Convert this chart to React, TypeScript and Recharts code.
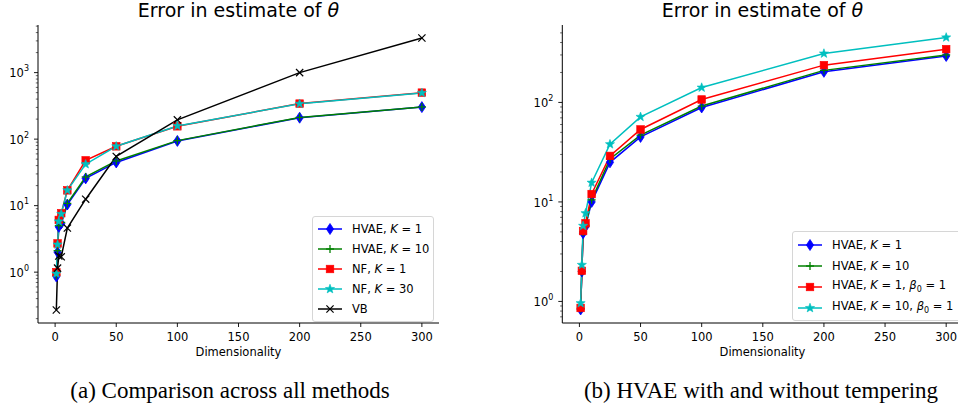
import React from 'react';
import { LineChart, Line, XAxis, YAxis, Legend } from 'recharts';

// ---------- data ----------
const dims = [1, 2, 3, 5, 10, 25, 50, 100, 200, 300];

// (a) Comparison across all methods
const hvaeK1A = [0.86, 2.0, 4.8, 5.4, 10.4, 25.7, 44.6, 94, 210, 303];
const hvaeK10A = [0.9, 2.1, 5.0, 5.6, 10.8, 27, 47, 95, 212, 305];
const nfK1A = [1.0, 2.7, 6.1, 7.7, 17, 48, 78, 156, 342, 500];
const nfK30A = [0.95, 2.6, 5.8, 7.5, 17, 42, 78, 158, 340, 495];
const vbA = [0.27, 1.15, 1.75, 1.7, 4.6, 12.5, 55, 195, 1000, 3320];

// (b) HVAE with and without tempering
const hvaeK1B = [0.83, 2.0, 4.85, 5.65, 10, 25, 45, 89, 203, 293];
const hvaeK10B = [0.85, 2.0, 5.0, 5.8, 10.5, 27, 47, 92, 210, 300];
const hvaeK1BetaB = [0.86, 2.03, 5.1, 6.1, 12, 29, 53.5, 107, 237, 343];
const hvaeK10BetaB = [0.96, 2.33, 5.75, 7.7, 15.6, 38, 71.6, 141, 310, 450];

const xTicks = [0, 50, 100, 150, 200, 250, 300];
const yMajorA = [1, 10, 100, 1000];
const yMinorA = [0.2, 0.3, 0.4, 0.5, 0.6, 0.7, 0.8, 0.9, 2, 3, 4, 5, 6, 7, 8, 9, 20, 30, 40, 50, 60, 70, 80, 90, 200, 300, 400, 500, 600, 700, 800, 900, 2000, 3000, 4000, 5000];
const yMajorB = [1, 10, 100];
const yMinorB = [0.7, 0.8, 0.9, 2, 3, 4, 5, 6, 7, 8, 9, 20, 30, 40, 50, 60, 70, 80, 90, 200, 300, 400, 500];

const titleText = 'Error in estimate of ';
const xLabelText = 'Dimensionality';
const captionA = '(a) Comparison across all methods';
const captionB = '(b) HVAE with and without tempering';

const dataA = dims.map((d, i) => ({ d, s1: hvaeK1A[i], s2: hvaeK10A[i], s3: nfK1A[i], s4: nfK30A[i], s5: vbA[i] }));
const dataB = dims.map((d, i) => ({ d, s1: hvaeK1B[i], s2: hvaeK10B[i], s3: hvaeK1BetaB[i], s4: hvaeK10BetaB[i] }));

const FONT = 'DejaVu Sans, sans-serif';

type Kind = 'diamond' | 'plus' | 'square' | 'star' | 'x';

const Marker = ({ kind, cx, cy, color }: { kind: Kind; cx: number; cy: number; color: string }) => {
  if (cx == null || cy == null || isNaN(cx) || isNaN(cy)) return <g />;
  switch (kind) {
    case 'diamond':
      return <polygon points={`${cx},${cy - 5.5} ${cx + 3.6},${cy} ${cx},${cy + 5.5} ${cx - 3.6},${cy}`} fill={color} stroke={color} strokeWidth={0.8} />;
    case 'plus':
      return (
        <g stroke={color} strokeWidth={1.3}>
          <line x1={cx - 4} x2={cx + 4} y1={cy} y2={cy} />
          <line x1={cx} x2={cx} y1={cy - 4} y2={cy + 4} />
        </g>
      );
    case 'square':
      return <rect x={cx - 3.8} y={cy - 3.8} width={7.6} height={7.6} fill={color} stroke={color} strokeWidth={0.6} />;
    case 'star': {
      const pts: string[] = [];
      for (let k = 0; k < 10; k++) {
        const r = k % 2 === 0 ? 4.8 : 2.0;
        const a = -Math.PI / 2 + (k * Math.PI) / 5;
        pts.push(`${cx + r * Math.cos(a)},${cy + r * Math.sin(a)}`);
      }
      return <polygon points={pts.join(' ')} fill={color} stroke={color} strokeWidth={0.6} />;
    }
    case 'x':
    default:
      return (
        <g stroke={color} strokeWidth={1.2}>
          <line x1={cx - 3.6} x2={cx + 3.6} y1={cy - 3.6} y2={cy + 3.6} />
          <line x1={cx - 3.6} x2={cx + 3.6} y1={cy + 3.6} y2={cy - 3.6} />
        </g>
      );
  }
};

type Series = { key: string; color: string; kind: Kind; label: React.ReactNode };

const seriesA: Series[] = [
  { key: 's1', color: '#0000ff', kind: 'diamond', label: <>HVAE, <i>K</i> = 1</> },
  { key: 's2', color: '#008000', kind: 'plus', label: <>HVAE, <i>K</i> = 10</> },
  { key: 's3', color: '#ff0000', kind: 'square', label: <>NF, <i>K</i> = 1</> },
  { key: 's4', color: '#00bfbf', kind: 'star', label: <>NF, <i>K</i> = 30</> },
  { key: 's5', color: '#000000', kind: 'x', label: <>VB</> },
];
const seriesB: Series[] = [
  { key: 's1', color: '#0000ff', kind: 'diamond', label: <>HVAE, <i>K</i> = 1</> },
  { key: 's2', color: '#008000', kind: 'plus', label: <>HVAE, <i>K</i> = 10</> },
  { key: 's3', color: '#ff0000', kind: 'square', label: <>HVAE, <i>K</i> = 1, <i>β</i><sub style={{ fontSize: 8 }}>0</sub> = 1</> },
  { key: 's4', color: '#00bfbf', kind: 'star', label: <>HVAE, <i>K</i> = 10, <i>β</i><sub style={{ fontSize: 8 }}>0</sub> = 1</> },
];

const XTick = (props: any) => {
  const { x, y, payload } = props;
  return (
    <g>
      <line x1={x} x2={x} y1={y} y2={y + 4} stroke="#000" strokeWidth={0.9} />
      <text x={x} y={y + 17.5} textAnchor="middle" fontSize={11.5} fontFamily={FONT} fill="#000">{payload.value}</text>
    </g>
  );
};

const makeYTick = (majors: number[]) => (props: any) => {
  const { x, y, payload } = props;
  const v = payload.value;
  const major = majors.includes(v);
  const exp = Math.round(Math.log10(v));
  return (
    <g>
      <line x1={x} x2={x - (major ? 4 : 2.2)} y1={y} y2={y} stroke="#000" strokeWidth={major ? 0.9 : 0.6} />
      {major && (
        <text x={x - 9} y={y + 4.8} textAnchor="end" fontSize={11.5} fontFamily={FONT} fill="#000">
          10<tspan dy={-6} fontSize={8}>{exp}</tspan>
        </text>
      )}
    </g>
  );
};

const makeLegend = (series: Series[], rowH: number, pad: { w: number }) => () => (
  <div
    style={{
      background: 'rgba(255,255,255,0.85)',
      border: '1px solid #d6d6d6',
      borderRadius: 3,
      padding: '2px 6px 2px 4px',
      width: pad.w,
      boxSizing: 'border-box',
      fontFamily: FONT,
      fontSize: 11.5,
      color: '#000',
    }}
  >
    {series.map((s) => (
      <div key={s.key} style={{ display: 'flex', alignItems: 'center', height: rowH, whiteSpace: 'nowrap' }}>
        <svg width={26} height={14} style={{ marginRight: 9, flex: 'none' }}>
          <line x1={1} x2={25} y1={7} y2={7} stroke={s.color} strokeWidth={1.5} />
          <Marker kind={s.kind} cx={13} cy={7} color={s.color} />
        </svg>
        <span>{s.label}</span>
      </div>
    ))}
  </div>
);

const renderLines = (series: Series[]) =>
  series.map((s) => (
    <Line
      key={s.key}
      dataKey={s.key}
      stroke={s.color}
      strokeWidth={1.5}
      isAnimationActive={false}
      type="linear"
      dot={(p: any) => <Marker key={`${s.key}-${p.index}`} kind={s.kind} cx={p.cx} cy={p.cy} color={s.color} />}
      activeDot={false}
    />
  ));

export default function App() {
  return (
    <div style={{ position: 'absolute', left: 0, top: 0, width: 958, height: 412, overflow: 'hidden', background: '#fff' }}>
      <div style={{ position: 'absolute', left: 0, top: 0 }}>
        <LineChart width={480} height={370} data={dataA} margin={{ top: 25, right: 41, left: 0, bottom: 17 }}>
          <XAxis dataKey="d" type="number" domain={[-14, 314]} allowDataOverflow ticks={xTicks} interval={0}
            tickSize={0} tickMargin={0} tickLine={false} tick={XTick} height={30} stroke="#000" axisLine={{ stroke: '#000', strokeWidth: 1 }} />
          <YAxis type="number" scale="log" domain={[0.172, 5200]} allowDataOverflow ticks={[...yMajorA, ...yMinorA]} interval={0}
            tickSize={0} tickMargin={0} tickLine={false} tick={makeYTick(yMajorA)} width={38} axisLine={{ stroke: '#000', strokeWidth: 1 }} />
          <Legend content={makeLegend(seriesA, 20, { w: 122 })} layout="vertical" align="center" verticalAlign="middle"
            wrapperStyle={{ position: 'absolute', left: 312, top: 216, width: 122, height: 'auto' }} />
          {renderLines(seriesA)}
        </LineChart>
      </div>
      <div style={{ position: 'absolute', left: 480, top: 0 }}>
        <LineChart width={490} height={370} data={dataB} margin={{ top: 25, right: 6.7, left: 0, bottom: 17 }}>
          <XAxis dataKey="d" type="number" domain={[-14, 314]} allowDataOverflow ticks={xTicks} interval={0}
            tickSize={0} tickMargin={0} tickLine={false} tick={XTick} height={30} axisLine={{ stroke: '#000', strokeWidth: 1 }} />
          <YAxis type="number" scale="log" domain={[0.607, 600]} allowDataOverflow ticks={[...yMajorB, ...yMinorB]} interval={0}
            tickSize={0} tickMargin={0} tickLine={false} tick={makeYTick(yMajorB)} width={82.3} axisLine={{ stroke: '#000', strokeWidth: 1 }} />
          <Legend content={makeLegend(seriesB, 21, { w: 170 })} layout="vertical" align="center" verticalAlign="middle"
            wrapperStyle={{ position: 'absolute', left: 312, top: 231, width: 170, height: 'auto' }} />
          {renderLines(seriesB)}
        </LineChart>
      </div>
      <svg width={958} height={412} style={{ position: 'absolute', left: 0, top: 0, pointerEvents: 'none' }}>
        <text x={238.5} y={17} textAnchor="middle" fontFamily={FONT} fontSize={19} fill="#000">
          {titleText}<tspan fontStyle="italic">θ</tspan>
        </text>
        <text x={762.5} y={17} textAnchor="middle" fontFamily={FONT} fontSize={19} fill="#000">
          {titleText}<tspan fontStyle="italic">θ</tspan>
        </text>
        <text x={238.5} y={356} textAnchor="middle" fontFamily={FONT} fontSize={11.5} fill="#000">{xLabelText}</text>
        <text x={762.5} y={356} textAnchor="middle" fontFamily={FONT} fontSize={11.5} fill="#000">{xLabelText}</text>
        <text x={230} y={398} textAnchor="middle" fontFamily="Liberation Serif, Times New Roman, serif" fontSize={23} fill="#000">{captionA}</text>
        <text x={761} y={398} textAnchor="middle" fontFamily="Liberation Serif, Times New Roman, serif" fontSize={23} fill="#000">{captionB}</text>
      </svg>
    </div>
  );
}
